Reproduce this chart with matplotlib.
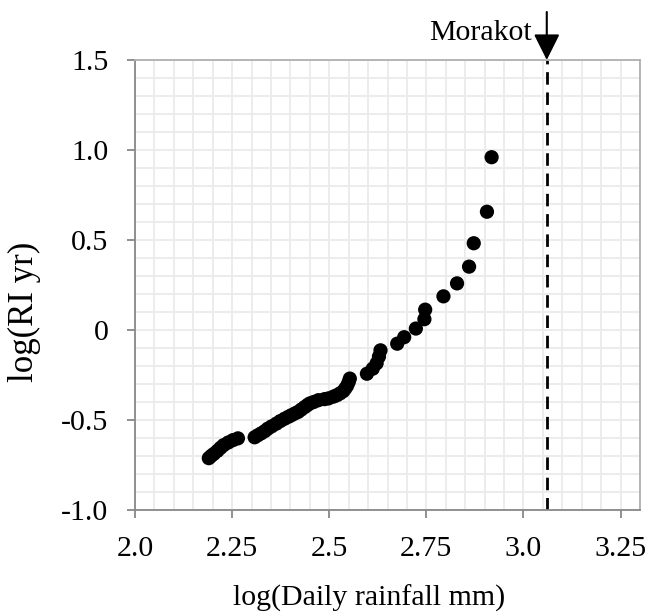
import matplotlib
matplotlib.use("Agg")
import matplotlib.pyplot as plt
from matplotlib.ticker import MultipleLocator, FixedLocator, FixedFormatter

plt.rcParams['font.family'] = ['Liberation Serif', 'DejaVu Serif']

# Data
log_rainfall = [2.190, 2.196, 2.203, 2.212, 2.220, 2.228, 2.240, 2.252, 2.265,
                2.308, 2.316, 2.325, 2.334, 2.342, 2.352, 2.364, 2.374, 2.385,
                2.395, 2.403, 2.412, 2.420, 2.428, 2.437, 2.444, 2.450, 2.460,
                2.472, 2.488, 2.498, 2.511, 2.520, 2.528, 2.536, 2.541, 2.546,
                2.550, 2.553,
                2.597, 2.612, 2.622, 2.628, 2.632, 2.675, 2.693, 2.723, 2.745,
                2.747, 2.794, 2.829, 2.860, 2.872, 2.906, 2.918]
log_ri = [-0.712, -0.700, -0.688, -0.672, -0.655, -0.640, -0.625, -0.612, -0.602,
          -0.596, -0.585, -0.574, -0.562, -0.548, -0.535, -0.520, -0.506, -0.493,
          -0.482, -0.473, -0.463, -0.455, -0.442, -0.428, -0.417, -0.408, -0.400,
          -0.390, -0.384, -0.380, -0.370, -0.362, -0.352, -0.340, -0.326, -0.310,
          -0.290, -0.270,
          -0.243, -0.215, -0.185, -0.148, -0.113, -0.076, -0.040, 0.008, 0.060,
          0.113, 0.187, 0.259, 0.352, 0.482, 0.657, 0.960]

morakot_x = 3.06
morakot_label = "Morakot"

x_ticks = [2.0, 2.25, 2.5, 2.75, 3.0, 3.25]
x_tick_labels = ["2.0", "2.25", "2.5", "2.75", "3.0", "3.25"]
y_ticks = [-1.0, -0.5, 0.0, 0.5, 1.0, 1.5]
y_tick_labels = ["-1.0", "-0.5", "0", "0.5", "1.0", "1.5"]
x_label = "log(Daily rainfall mm)"
y_label = "log(RI yr)"

fig = plt.figure(figsize=(6.48, 6.15), dpi=100)
ax = fig.add_axes([135/648, 1-510/615, 505/648, 450/615])

ax.set_xlim(2.0, 3.3)
ax.set_ylim(-1.0, 1.5)

ax.xaxis.set_major_locator(FixedLocator(x_ticks))
ax.xaxis.set_major_formatter(FixedFormatter(x_tick_labels))
ax.yaxis.set_major_locator(FixedLocator(y_ticks))
ax.yaxis.set_major_formatter(FixedFormatter(y_tick_labels))
ax.xaxis.set_minor_locator(MultipleLocator(0.05))
ax.yaxis.set_minor_locator(MultipleLocator(0.1))

ax.set_axisbelow(True)
ax.grid(which='both', color='#ebebeb', linewidth=1.3)

ax.tick_params(axis='x', which='major', direction='out', length=6, width=1.3,
               color='#888888', labelsize=21.5, pad=13)
ax.tick_params(axis='y', which='major', direction='out', length=6, width=1.3,
               color='#888888', labelsize=21.5, pad=13)
ax.tick_params(which='minor', length=0)

for side in ['left', 'bottom']:
    ax.spines[side].set_color('#888888')
    ax.spines[side].set_linewidth(1.3)
for side in ['top', 'right']:
    ax.spines[side].set_color('#b0b0b0')
    ax.spines[side].set_linewidth(1.3)

ax.scatter(log_rainfall, log_ri, s=105, color='black', edgecolors='none', zorder=3)

ax.axvline(morakot_x, color='black', linewidth=2.0, linestyle=(0, (4.5, 2.8)), zorder=2)

ax.annotate("", xy=(morakot_x, 1.5), xytext=(morakot_x, 1.5 + 48/180),
            arrowprops=dict(arrowstyle='-|>', color='black', lw=1.5,
                            mutation_scale=40, shrinkA=0, shrinkB=0),
            annotation_clip=False)
ax.annotate(morakot_label, xy=(morakot_x, 1.5), xytext=(-15, 27),
            textcoords='offset pixels', ha='right', va='center', fontsize=21.5,
            annotation_clip=False)

ax.set_xlabel(x_label, fontsize=21.5)
ax.xaxis.set_label_coords(0.463, -0.166)
ax.set_ylabel(y_label, fontsize=25)
ax.yaxis.set_label_coords(-0.186, 0.44)

fig.savefig("out.png", dpi=100)
